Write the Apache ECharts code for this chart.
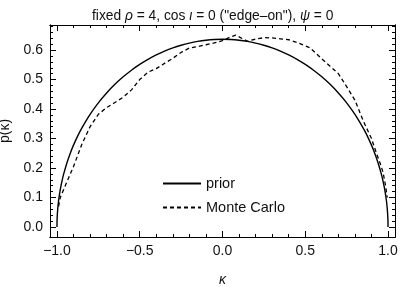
<!DOCTYPE html>
<html><head><meta charset="utf-8">
<script src="https://cdn.jsdelivr.net/npm/echarts@6/dist/echarts.min.js"></script>
<style>html,body{margin:0;padding:0;background:#fff}#c{width:400px;height:287px}</style>
</head><body><div id="c"></div>
<script>
// ---- data ----
const seriesNames = ['prior', 'Monte Carlo'];

const priorKappa = [-1, -0.999, -0.995, -0.99, -0.98, -0.97, -0.96, -0.94, -0.92, -0.9, -0.87, -0.85, -0.8, -0.75, -0.7, -0.65, -0.6, -0.55, -0.5, -0.45, -0.4, -0.35, -0.3, -0.25, -0.2, -0.15, -0.1, -0.05,
  0, 0.05, 0.1, 0.15, 0.2, 0.25, 0.3, 0.35, 0.4, 0.45, 0.5, 0.55, 0.6, 0.65, 0.7, 0.75, 0.8, 0.85, 0.87, 0.9, 0.92, 0.94, 0.96, 0.97, 0.98, 0.99, 0.995, 0.999, 1];
const priorP = [0, 0.0285, 0.0636, 0.0898, 0.1267, 0.1548, 0.1782, 0.2172, 0.2495, 0.2775, 0.3139, 0.3354, 0.382, 0.4211, 0.4546, 0.4838, 0.5093, 0.5317, 0.5513, 0.5685, 0.5835, 0.5963, 0.6073, 0.6164, 0.6237, 0.6294, 0.6334, 0.6358,
  0.6366, 0.6358, 0.6334, 0.6294, 0.6237, 0.6164, 0.6073, 0.5963, 0.5835, 0.5685, 0.5513, 0.5317, 0.5093, 0.4838, 0.4546, 0.4211, 0.382, 0.3354, 0.3139, 0.2775, 0.2495, 0.2172, 0.1782, 0.1548, 0.1267, 0.0898, 0.0636, 0.0285, 0];

const mcKappa = [-0.99, -0.98, -0.95, -0.9, -0.85, -0.8, -0.75, -0.7, -0.65, -0.6, -0.55, -0.5, -0.45, -0.4, -0.35, -0.3, -0.25, -0.2, -0.15, -0.1, -0.05,
  0, 0.05, 0.08, 0.15, 0.2, 0.25, 0.3, 0.35, 0.4, 0.45, 0.53, 0.6, 0.65, 0.7, 0.75, 0.8, 0.85, 0.9, 0.93, 0.95, 0.97, 0.985, 0.995];
const mcP = [0.07, 0.1, 0.14, 0.205, 0.28, 0.34, 0.382, 0.405, 0.422, 0.44, 0.465, 0.5, 0.525, 0.537, 0.555, 0.572, 0.592, 0.607, 0.612, 0.618, 0.624,
  0.632, 0.645, 0.651, 0.63, 0.637, 0.642, 0.641, 0.638, 0.635, 0.626, 0.607, 0.57, 0.545, 0.52, 0.476, 0.43, 0.36, 0.3, 0.25, 0.22, 0.185, 0.14, 0.1];

const xMajorTicks = [-1, -0.5, 0, 0.5, 1];
const xMinorTicks = [-1, -0.9, -0.8, -0.7, -0.6, -0.5, -0.4, -0.3, -0.2, -0.1, 0, 0.1, 0.2, 0.3, 0.4, 0.5, 0.6, 0.7, 0.8, 0.9, 1];
const yMajorTicks = [0, 0.1, 0.2, 0.3, 0.4, 0.5, 0.6];
const yMinorTicks = [0, 0.02, 0.04, 0.06, 0.08, 0.1, 0.12, 0.14, 0.16, 0.18, 0.2, 0.22, 0.24, 0.26, 0.28, 0.3, 0.32, 0.34, 0.36, 0.38, 0.4, 0.42, 0.44, 0.46, 0.48, 0.5, 0.52, 0.54, 0.56, 0.58, 0.6, 0.62, 0.64, 0.66, 0.68];

// ---- chart ----
const X_MIN = -1.042, X_MAX = 1.042, Y_MIN = -0.034, Y_MAX = 0.685;
const FONT = '"Liberation Sans", Arial, sans-serif';
const fmt = v => (v < 0 ? '\u2212' : '') + Math.abs(v).toFixed(1);

function axis(kind, pos, ticks, len, labels) {
  const a = {
    type: 'value', position: pos,
    min: kind === 'x' ? X_MIN : Y_MIN, max: kind === 'x' ? X_MAX : Y_MAX,
    axisLine: { show: true, onZero: false, lineStyle: { color: '#000', width: 1 } },
    axisTick: { show: true, inside: true, length: len, customValues: ticks, lineStyle: { color: '#000', width: 1 } },
    axisLabel: { show: false },
    splitLine: { show: false }, minorTick: { show: false }
  };
  if (labels) {
    a.axisLabel = { show: true, customValues: ticks, formatter: fmt, color: '#111', fontSize: 14, fontFamily: FONT, margin: 7 };
  }
  return a;
}

const xAxes = [
  Object.assign(axis('x', 'bottom', xMajorTicks, 6, true), {
    name: '{i|\u03ba}', nameLocation: 'middle', nameGap: 36,
    nameTextStyle: { rich: { i: { fontStyle: 'italic', fontSize: 14, fontFamily: FONT, color: '#111' } } }
  }),
  axis('x', 'bottom', xMinorTicks, 3, false),
  axis('x', 'top', xMajorTicks, 6, false),
  axis('x', 'top', xMinorTicks, 3, false)
];
const yAxes = [
  Object.assign(axis('y', 'left', yMajorTicks, 6, true), {
    name: 'p(\u03ba)', nameLocation: 'middle', nameGap: 35, nameRotate: 90,
    nameTextStyle: { fontSize: 14, fontFamily: FONT, color: '#111' }
  }),
  axis('y', 'left', yMinorTicks, 3, false),
  axis('y', 'right', yMajorTicks, 6, false),
  axis('y', 'right', yMinorTicks, 3, false)
];

const chart = echarts.init(document.getElementById('c'), null, { renderer: 'canvas' });
chart.setOption({
  animation: false,
  backgroundColor: '#fff',
  title: {
    text: 'fixed {i|\u03c1} = 4, cos {i|\u03b9} = 0 ("edge\u2013on"), {i|\u03c8} = 0',
    left: 87, top: 4,
    textStyle: {
      fontSize: 13.8, fontWeight: 'normal', fontFamily: FONT, color: '#111',
      rich: { i: { fontStyle: 'italic', fontSize: 13.8, fontFamily: FONT, color: '#111' } }
    }
  },
  grid: { left: 50, right: 5, top: 25, bottom: 50, containLabel: false, outerBoundsMode: 'none' },
  legend: {
    orient: 'vertical', left: 157, top: 171, itemWidth: 38, itemHeight: 14, itemGap: 9,
    icon: 'inherit',
    itemStyle: { color: 'rgba(0,0,0,0)', borderColor: 'rgba(0,0,0,0)', borderWidth: 0 },
    data: seriesNames,
    textStyle: { fontSize: 14.5, fontFamily: FONT, color: '#111' }
  },
  xAxis: xAxes,
  yAxis: yAxes,
  series: [
    {
      name: seriesNames[0], type: 'line', xAxisIndex: 0, yAxisIndex: 0,
      data: priorKappa.map((k, i) => [k, priorP[i]]),
      symbol: 'none', showSymbol: false, smooth: 0.2,
      lineStyle: { color: '#000', width: 1.4 }, itemStyle: { color: '#000' }
    },
    {
      name: seriesNames[1], type: 'line', xAxisIndex: 0, yAxisIndex: 0,
      data: mcKappa.map((k, i) => [k, mcP[i]]),
      symbol: 'none', showSymbol: false,
      lineStyle: { color: '#000', width: 1.3, type: [4, 3] }, itemStyle: { color: '#000' }
    }
  ]
});
</script>
</body></html>
